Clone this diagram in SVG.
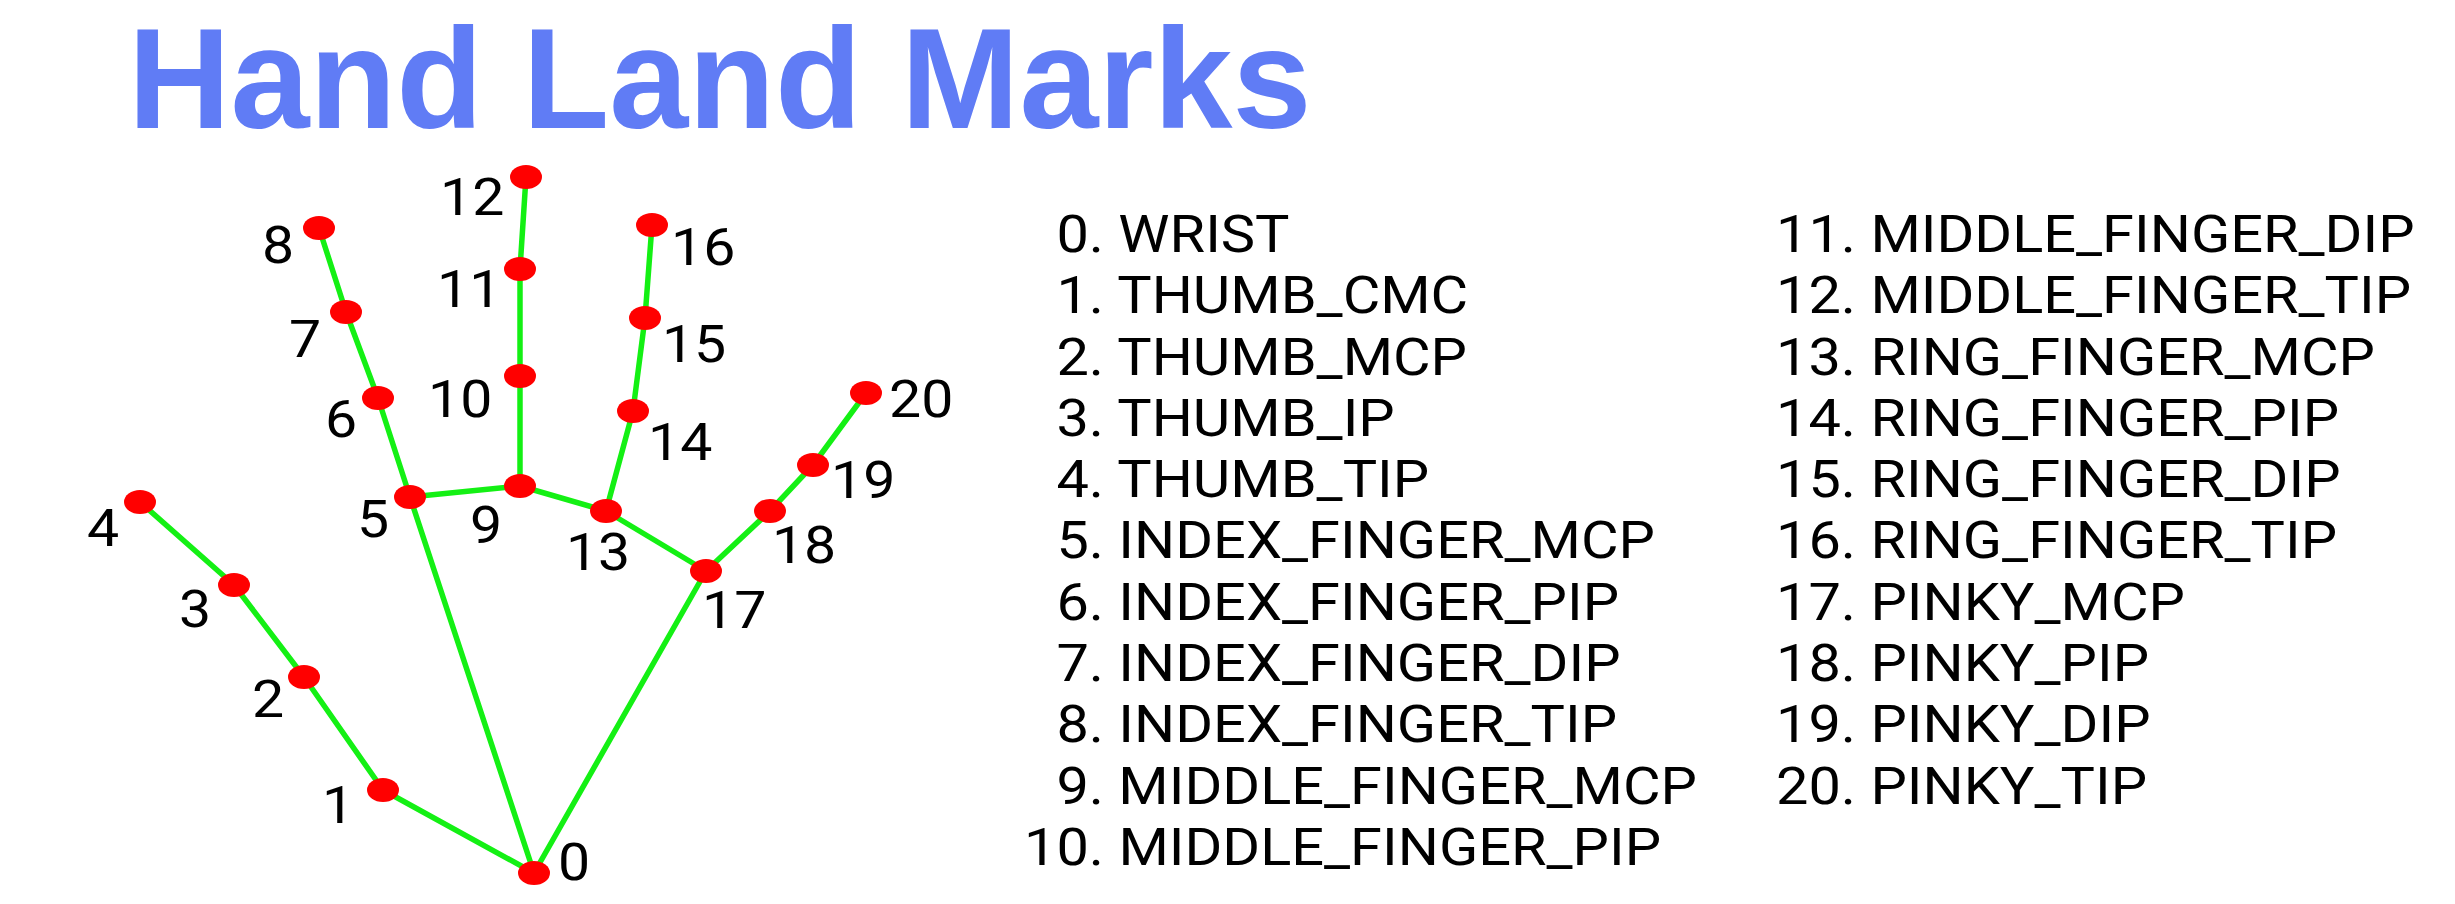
<svg xmlns="http://www.w3.org/2000/svg" width="2455" height="904" viewBox="0 0 2455 904">
<style>
.title{font-family:"Liberation Sans",Arial,sans-serif;font-weight:bold;font-size:142px;fill:#607CF5}
.bone{stroke:#14F014;stroke-width:5.5;stroke-linecap:round;fill:none}
.dot{fill:#FF0000}
.lbl{font-family:Roboto,"Liberation Sans",sans-serif;font-size:52px;fill:#000}
.item{font-family:Roboto,"Liberation Sans",sans-serif;font-size:52px;fill:#000}
</style>
<rect width="2455" height="904" fill="#FFFFFF"/>
<text class="title" x="128" y="128">Hand Land Marks</text>
<g id="connectors">
<line class="bone" x1="534" y1="873" x2="383" y2="790"/>
<line class="bone" x1="383" y1="790" x2="304" y2="677"/>
<line class="bone" x1="304" y1="677" x2="234" y2="585"/>
<line class="bone" x1="234" y1="585" x2="140" y2="502"/>
<line class="bone" x1="534" y1="873" x2="410" y2="497"/>
<line class="bone" x1="410" y1="497" x2="378" y2="398"/>
<line class="bone" x1="378" y1="398" x2="346" y2="312"/>
<line class="bone" x1="346" y1="312" x2="319" y2="228"/>
<line class="bone" x1="410" y1="497" x2="520" y2="486"/>
<line class="bone" x1="520" y1="486" x2="520" y2="376"/>
<line class="bone" x1="520" y1="376" x2="520" y2="269"/>
<line class="bone" x1="520" y1="269" x2="526" y2="177"/>
<line class="bone" x1="520" y1="486" x2="606" y2="511"/>
<line class="bone" x1="606" y1="511" x2="633" y2="411"/>
<line class="bone" x1="633" y1="411" x2="645" y2="318"/>
<line class="bone" x1="645" y1="318" x2="652" y2="225"/>
<line class="bone" x1="606" y1="511" x2="706" y2="571"/>
<line class="bone" x1="706" y1="571" x2="770" y2="511"/>
<line class="bone" x1="770" y1="511" x2="813" y2="465"/>
<line class="bone" x1="813" y1="465" x2="866" y2="393"/>
<line class="bone" x1="534" y1="873" x2="706" y2="571"/>
</g>
<g id="n0"><ellipse class="dot" cx="534" cy="873" rx="16" ry="12"/><text class="lbl" transform="scale(1.1 1)" x="507.3" y="880">0</text></g>
<g id="n1"><ellipse class="dot" cx="383" cy="790" rx="16" ry="12"/><text class="lbl" transform="scale(1.1 1)" x="292.7" y="823">1</text></g>
<g id="n2"><ellipse class="dot" cx="304" cy="677" rx="16" ry="12"/><text class="lbl" transform="scale(1.1 1)" x="229.1" y="717">2</text></g>
<g id="n3"><ellipse class="dot" cx="234" cy="585" rx="16" ry="12"/><text class="lbl" transform="scale(1.1 1)" x="162.7" y="627">3</text></g>
<g id="n4"><ellipse class="dot" cx="140" cy="502" rx="16" ry="12"/><text class="lbl" transform="scale(1.1 1)" x="79.1" y="546">4</text></g>
<g id="n5"><ellipse class="dot" cx="410" cy="497" rx="16" ry="12"/><text class="lbl" transform="scale(1.1 1)" x="324.5" y="537">5</text></g>
<g id="n6"><ellipse class="dot" cx="378" cy="398" rx="16" ry="12"/><text class="lbl" transform="scale(1.1 1)" x="295.5" y="437">6</text></g>
<g id="n7"><ellipse class="dot" cx="346" cy="312" rx="16" ry="12"/><text class="lbl" transform="scale(1.1 1)" x="262.7" y="357">7</text></g>
<g id="n8"><ellipse class="dot" cx="319" cy="228" rx="16" ry="12"/><text class="lbl" transform="scale(1.1 1)" x="238.2" y="263">8</text></g>
<g id="n9"><ellipse class="dot" cx="520" cy="486" rx="16" ry="12"/><text class="lbl" transform="scale(1.1 1)" x="427.3" y="543">9</text></g>
<g id="n10"><ellipse class="dot" cx="520" cy="376" rx="16" ry="12"/><text class="lbl" transform="scale(1.1 1)" x="389.1" y="417">10</text></g>
<g id="n11"><ellipse class="dot" cx="520" cy="269" rx="16" ry="12"/><text class="lbl" transform="scale(1.1 1)" x="397.3" y="307">11</text></g>
<g id="n12"><ellipse class="dot" cx="526" cy="177" rx="16" ry="12"/><text class="lbl" transform="scale(1.1 1)" x="400" y="215">12</text></g>
<g id="n13"><ellipse class="dot" cx="606" cy="511" rx="16" ry="12"/><text class="lbl" transform="scale(1.1 1)" x="514.5" y="570">13</text></g>
<g id="n14"><ellipse class="dot" cx="633" cy="411" rx="16" ry="12"/><text class="lbl" transform="scale(1.1 1)" x="589.1" y="460">14</text></g>
<g id="n15"><ellipse class="dot" cx="645" cy="318" rx="16" ry="12"/><text class="lbl" transform="scale(1.1 1)" x="601.8" y="362">15</text></g>
<g id="n16"><ellipse class="dot" cx="652" cy="225" rx="16" ry="12"/><text class="lbl" transform="scale(1.1 1)" x="610" y="265">16</text></g>
<g id="n17"><ellipse class="dot" cx="706" cy="571" rx="16" ry="12"/><text class="lbl" transform="scale(1.1 1)" x="638.2" y="628">17</text></g>
<g id="n18"><ellipse class="dot" cx="770" cy="511" rx="16" ry="12"/><text class="lbl" transform="scale(1.1 1)" x="701.8" y="563">18</text></g>
<g id="n19"><ellipse class="dot" cx="813" cy="465" rx="16" ry="12"/><text class="lbl" transform="scale(1.1 1)" x="755.5" y="498">19</text></g>
<g id="n20"><ellipse class="dot" cx="866" cy="393" rx="16" ry="12"/><text class="lbl" transform="scale(1.1 1)" x="808.2" y="417">20</text></g>
<g id="legend-left" transform="translate(1024 0) scale(1.11 1)">
<text class="item" x="29.2" y="252">0. WRIST</text>
<text class="item" x="29.2" y="313.3">1. THUMB_CMC</text>
<text class="item" x="29.2" y="374.6">2. THUMB_MCP</text>
<text class="item" x="29.2" y="435.9">3. THUMB_IP</text>
<text class="item" x="29.2" y="497.2">4. THUMB_TIP</text>
<text class="item" x="29.2" y="558.5">5. INDEX_FINGER_MCP</text>
<text class="item" x="29.2" y="619.8">6. INDEX_FINGER_PIP</text>
<text class="item" x="29.2" y="681.1">7. INDEX_FINGER_DIP</text>
<text class="item" x="29.2" y="742.4">8. INDEX_FINGER_TIP</text>
<text class="item" x="29.2" y="803.7">9. MIDDLE_FINGER_MCP</text>
<text class="item" x="0" y="865">10. MIDDLE_FINGER_PIP</text>
</g>
<g id="legend-right" transform="translate(1776 0) scale(1.11 1)">
<text class="item" x="0" y="252">11. MIDDLE_FINGER_DIP</text>
<text class="item" x="0" y="313.3">12. MIDDLE_FINGER_TIP</text>
<text class="item" x="0" y="374.6">13. RING_FINGER_MCP</text>
<text class="item" x="0" y="435.9">14. RING_FINGER_PIP</text>
<text class="item" x="0" y="497.2">15. RING_FINGER_DIP</text>
<text class="item" x="0" y="558.5">16. RING_FINGER_TIP</text>
<text class="item" x="0" y="619.8">17. PINKY_MCP</text>
<text class="item" x="0" y="681.1">18. PINKY_PIP</text>
<text class="item" x="0" y="742.4">19. PINKY_DIP</text>
<text class="item" x="0" y="803.7">20. PINKY_TIP</text>
</g>
</svg>
